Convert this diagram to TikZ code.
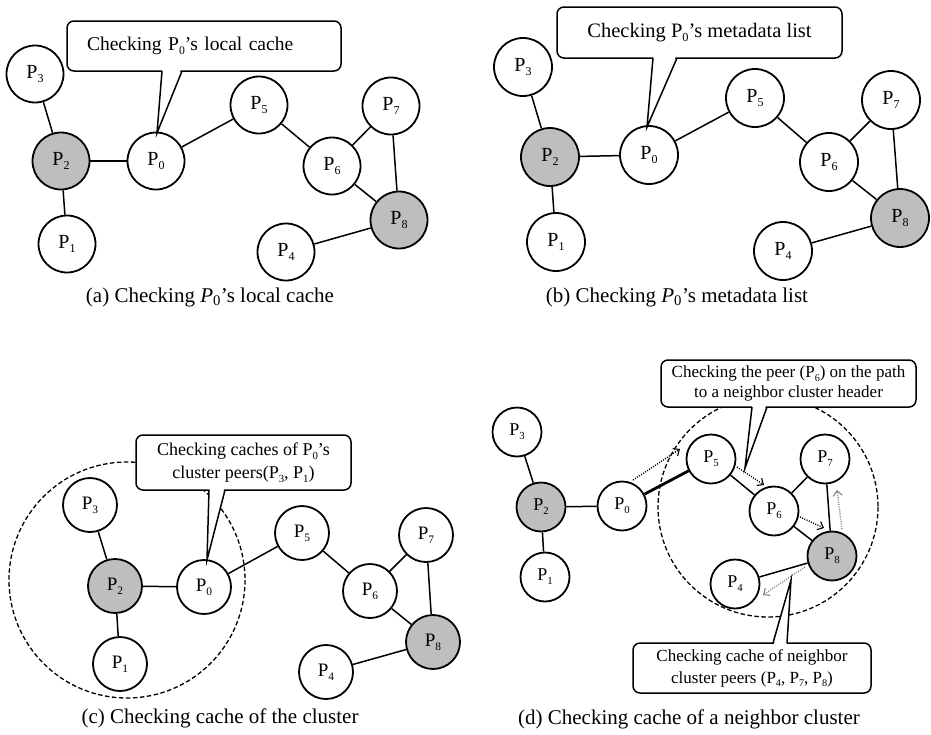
\documentclass[tikz,border=0pt]{standalone}
\usepackage{fontspec}
\setmainfont{Liberation Serif}
\usetikzlibrary{arrows.meta}

\definecolor{hubgray}{RGB}{190,190,190}
\definecolor{hopgray}{RGB}{130,130,130}

% peer name with a small, lowered index
\newcommand\pn[1]{P\raisebox{-0.22em}{\scalebox{0.6}{#1}}}

\tikzset{
  peer/.style={circle, draw, line width=1.8, fill=white, inner sep=0pt,
    minimum size=#1},
  hub/.style={peer=#1, fill=hubgray},
  link/.style={line width=1.5},
  mainlink/.style={line width=2.8},
  callout/.style={draw, line width=1.5, fill=white, rounded corners=7,
    inner sep=0pt, align=center},
  pointer/.style={line width=1.5, line join=miter},
  region/.style={line width=1.3, dash pattern=on 4.5pt off 2.5pt},
  hop/.style={line width=1.4, dash pattern=on 1pt off 1.4pt,
    -{Straight Barb[length=5,width=9,line width=1.1]}},
  grayhop/.style={hop, draw=hopgray},
  caption/.style={font=\fontsize{21}{21}\selectfont}
}

\begin{document}
\begin{tikzpicture}[x=1pt, y=-1pt]
\useasboundingbox (0,0) rectangle (931,734);

% ---------- (a) ----------
\begin{scope}[every node/.append style={font=\fontsize{20}{20}\selectfont}]
\node[peer=57] (a3) at (35,74)  {\pn{3}};
\node[hub=57]  (a2) at (61,161) {\pn{2}};
\node[peer=57] (a0) at (156,161) {\pn{0}};
\node[peer=57] (a1) at (67,244) {\pn{1}};
\node[peer=57] (a5) at (259,105) {\pn{5}};
\node[peer=57] (a6) at (332,166) {\pn{6}};
\node[peer=57] (a7) at (391,106) {\pn{7}};
\node[hub=57]  (a8) at (399,220) {\pn{8}};
\node[peer=57] (a4) at (286,252) {\pn{4}};
\end{scope}
\foreach \u/\v in {a3/a2, a2/a0, a2/a1, a0/a5, a5/a6, a6/a7, a6/a8, a7/a8, a8/a4}
  \draw[link] (\u) -- (\v);
\node[callout, minimum width=274, minimum height=50, text width=234, inner xsep=20,
  align=left, font=\fontsize{19.5}{22}\selectfont] (ca) at (204,46)
  {Checking \pn{0}’s local cache};
\coordinate (ca-tip) at (157,133);
\fill[white] (162.5,68) -- (ca-tip) -- (181.5,68) -- cycle;
\draw[pointer] (162,71) -- (ca-tip) -- (182,71);
\node[caption] (capa) at (210,297) {(a) Checking \textit{P}\textsubscript{0}’s local cache};

% ---------- (b) ----------
\begin{scope}[every node/.append style={font=\fontsize{20}{20}\selectfont}]
\node[peer=58] (b3) at (523,67)  {\pn{3}};
\node[hub=58]  (b2) at (550,157) {\pn{2}};
\node[peer=58] (b0) at (649,155) {\pn{0}};
\node[peer=58] (b1) at (556,242) {\pn{1}};
\node[peer=58] (b5) at (755,98)  {\pn{5}};
\node[peer=58] (b6) at (829,162) {\pn{6}};
\node[peer=58] (b7) at (891,100) {\pn{7}};
\node[hub=58]  (b8) at (900,218) {\pn{8}};
\node[peer=58] (b4) at (783,251) {\pn{4}};
\end{scope}
\foreach \u/\v in {b3/b2, b2/b0, b2/b1, b0/b5, b5/b6, b6/b7, b6/b8, b7/b8, b8/b4}
  \draw[link] (\u) -- (\v);
\node[callout, minimum width=285, minimum height=51,
  font=\fontsize{20.5}{22}\selectfont] (cb) at (699.5,32.5)
  {Checking \pn{0}’s metadata list};
\coordinate (cb-tip) at (647,127);
\fill[white] (653.5,55) -- (cb-tip) -- (676.5,55) -- cycle;
\draw[pointer] (653,58) -- (cb-tip) -- (677,58);
\node[caption] (capb) at (677,297) {(b) Checking \textit{P}\textsubscript{0}’s metadata list};

% ---------- (c) ----------
\draw[region] (127,580) circle (118);
\begin{scope}[every node/.append style={font=\fontsize{19}{19}\selectfont}]
\node[peer=54] (c3) at (90,505)  {\pn{3}};
\node[hub=54]  (c2) at (115,586) {\pn{2}};
\node[peer=54] (c0) at (204,587) {\pn{0}};
\node[peer=54] (c1) at (120,664) {\pn{1}};
\node[peer=54] (c5) at (302,533) {\pn{5}};
\node[peer=54] (c6) at (370,591) {\pn{6}};
\node[peer=54] (c7) at (426,535) {\pn{7}};
\node[hub=54]  (c8) at (433,642) {\pn{8}};
\node[peer=54] (c4) at (326,672) {\pn{4}};
\end{scope}
\foreach \u/\v in {c3/c2, c2/c0, c2/c1, c0/c5, c5/c6, c6/c7, c6/c8, c7/c8, c8/c4}
  \draw[link] (\u) -- (\v);
\node[callout, minimum width=215, minimum height=55,
  font=\fontsize{18}{23}\selectfont] (cc) at (243.5,462.5)
  {Checking caches of \pn{0}’s\\cluster peers(\pn{3}, \pn{1})};
\coordinate (cc-tip) at (207,560);
\fill[white] (209.5,487) -- (cc-tip) -- (224.5,487) -- cycle;
\draw[pointer] (209,490) -- (cc-tip) -- (225,490);
\node[caption] (capc) at (220,718) {(c) Checking cache of the cluster};

% ---------- (d) ----------
\draw[region] (768,507) circle (110);
\begin{scope}[every node/.append style={font=\fontsize{18}{18}\selectfont}]
\node[peer=49] (d3) at (517,432) {\pn{3}};
\node[hub=49]  (d2) at (541,507) {\pn{2}};
\node[peer=49] (d0) at (622,506) {\pn{0}};
\node[peer=49] (d1) at (545,577) {\pn{1}};
\node[peer=49] (d5) at (711,459) {\pn{5}};
\node[peer=49] (d6) at (774,511) {\pn{6}};
\node[peer=49] (d7) at (825,459) {\pn{7}};
\node[hub=49]  (d8) at (832,556) {\pn{8}};
\node[peer=49] (d4) at (735,584) {\pn{4}};
\end{scope}
\foreach \u/\v in {d3/d2, d2/d0, d2/d1, d5/d6, d6/d7, d6/d8, d7/d8, d8/d4}
  \draw[link] (\u) -- (\v);
\draw[mainlink] (d0) -- (d5);

% query hops towards the neighbour cluster
\coordinate (h1s) at (633,480); \coordinate (h1e) at (680,449);
\coordinate (h2s) at (737,467); \coordinate (h2e) at (764,485);
\coordinate (h3s) at (800,517); \coordinate (h3e) at (824,528);
\coordinate (h4s) at (842,529); \coordinate (h4e) at (837,490);
\coordinate (h5s) at (805,567); \coordinate (h5e) at (763,595);
\draw[hop] (h1s) -- (h1e);
\draw[hop] (h2s) -- (h2e);
\draw[hop] (h3s) -- (h3e);
\draw[grayhop] (h4s) -- (h4e);
\draw[grayhop] (h5s) -- (h5e);

\node[callout, minimum width=255, minimum height=47,
  font=\fontsize{17}{20}\selectfont] (cd) at (788.5,383.5)
  {Checking the peer (\pn{6}) on the path\\to a neighbor cluster header};
\coordinate (cd-tip) at (745,468);
\fill[white] (752.5,404) -- (cd-tip) -- (766.5,404) -- cycle;
\draw[pointer] (752,407) -- (cd-tip) -- (767,407);

\node[callout, minimum width=238, minimum height=50,
  font=\fontsize{17}{22}\selectfont] (ce) at (752,668)
  {Checking cache of neighbor\\cluster peers (\pn{4}, \pn{7}, \pn{8})};
\coordinate (ce-tip) at (791,580);
\fill[white] (773.5,646) -- (ce-tip) -- (786.5,646) -- cycle;
\draw[pointer] (773,643) -- (ce-tip) -- (787,643);
\node[caption] (capd) at (689,719) {(d) Checking cache of a neighbor cluster};

\end{tikzpicture}
\end{document}
